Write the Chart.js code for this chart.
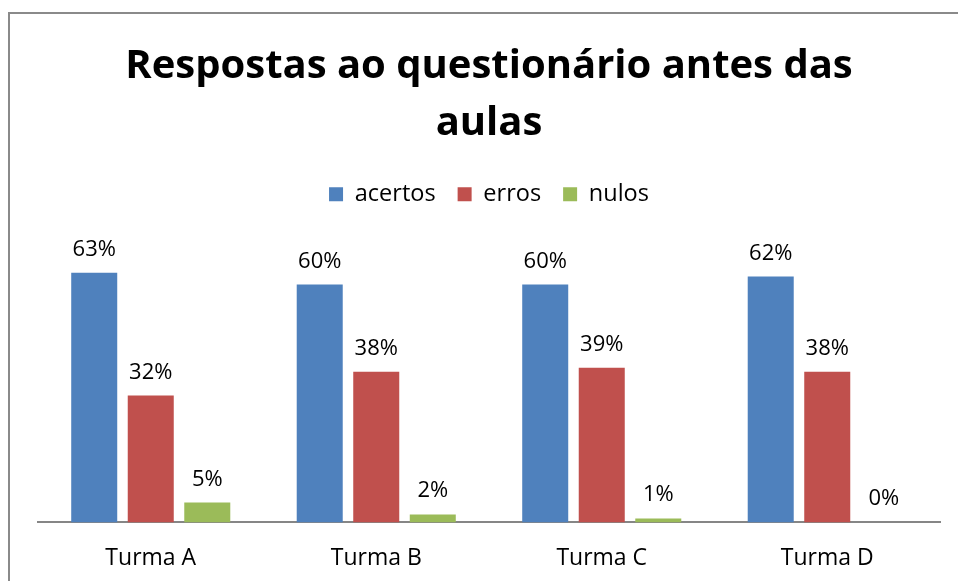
<!DOCTYPE html>
<html>
<head>
<meta charset="utf-8">
<script src="https://cdn.jsdelivr.net/npm/chart.js@4.4.1/dist/chart.umd.min.js"></script>
<style>
  html, body { margin: 0; padding: 0; background: #fff; }
  #wrap { width: 958px; height: 581px; }
</style>
</head>
<body>
<div id="wrap"><canvas id="MYChart" width="958" height="581"></canvas></div>
<script>
// Dados do gráfico
var turmas = ['Turma A', 'Turma B', 'Turma C', 'Turma D'];
var acertos = [0.63, 0.60, 0.60, 0.62];
var erros = [0.32, 0.38, 0.39, 0.38];
var nulos = [0.05, 0.02, 0.01, 0.00];

var fonte = "'Open Sans', 'DejaVu Sans', sans-serif";

// moldura cinza do gráfico (só esquerda e topo visíveis)
var moldura = {
    id: 'moldura',
    beforeDraw: function (chart) {
        var ctx = chart.ctx;
        ctx.save();
        ctx.fillStyle = '#ffffff';
        ctx.fillRect(0, 0, chart.width, chart.height);
        ctx.strokeStyle = '#8a8a8a';
        ctx.lineWidth = 2;
        ctx.strokeRect(9, 13, chart.width + 20, chart.height + 20);
        ctx.restore();
    }
};

// espaço extra abaixo da legenda
var espacoLegenda = {
    id: 'espacoLegenda',
    beforeInit: function (chart) {
        var fitOriginal = chart.legend.fit;
        chart.legend.fit = function () {
            fitOriginal.bind(chart.legend)();
            this.height += 29;
        };
    }
};

// rótulos de percentagem por cima das barras
var rotulos = {
    id: 'rotulos',
    afterDatasetsDraw: function (chart) {
        var ctx = chart.ctx;
        ctx.save();
        ctx.font = '22px ' + fonte;
        ctx.fillStyle = '#000000';
        ctx.textAlign = 'center';
        ctx.textBaseline = 'alphabetic';
        chart.data.datasets.forEach(function (ds, i) {
            var meta = chart.getDatasetMeta(i);
            meta.data.forEach(function (bar, j) {
                var txt = Math.round(ds.data[j] * 100) + '%';
                ctx.fillText(txt, bar.x, bar.y - 17);
            });
        });
        ctx.restore();
    }
};

var ctx = document.getElementById('MYChart').getContext('2d');
var MYChart = new Chart(ctx, {
    type: 'bar',
    data: {
        labels: turmas,
        datasets: [{
            label: 'acertos',
            data: acertos,
            backgroundColor: '#4F81BD'
        }, {
            label: 'erros',
            data: erros,
            backgroundColor: '#C0504D'
        }, {
            label: 'nulos',
            data: nulos,
            backgroundColor: '#9BBB59'
        }]
    },
    options: {
        responsive: false,
        animation: false,
        devicePixelRatio: 1,
        categoryPercentage: 0.752,
        barPercentage: 0.814,
        layout: {
            padding: { left: 38, right: 18, top: 0, bottom: -13 }
        },
        plugins: {
            title: {
                display: true,
                text: ['Respostas ao questionário antes das', 'aulas'],
                color: '#000000',
                font: { family: fonte, size: 40, weight: 'bold', lineHeight: 1.43 },
                padding: { top: 38, bottom: 8 }
            },
            legend: {
                display: true,
                position: 'top',
                labels: {
                    color: '#000000',
                    font: { family: fonte, size: 23.5 },
                    boxWidth: 14,
                    boxHeight: 14,
                    padding: 22
                }
            },
            tooltip: { enabled: false }
        },
        scales: {
            x: {
                grid: { display: false, drawTicks: false, tickLength: 0 },
                border: { display: true, color: '#868686', width: 2 },
                ticks: {
                    color: '#000000',
                    font: { family: fonte, size: 23 },
                    padding: 22
                }
            },
            y: {
                display: false,
                beginAtZero: true,
                min: 0,
                max: 0.7
            }
        }
    },
    plugins: [moldura, espacoLegenda, rotulos]
});
</script>
</body>
</html>
